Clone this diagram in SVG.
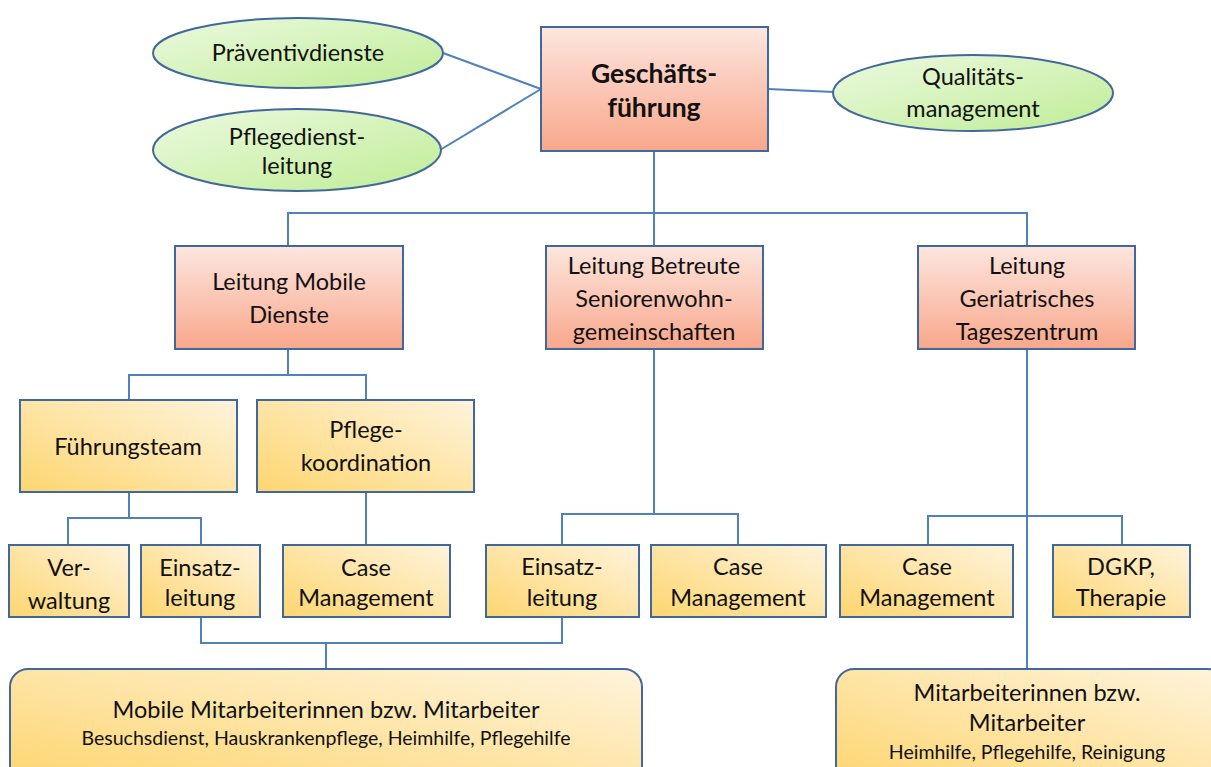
<svg xmlns="http://www.w3.org/2000/svg" width="1211" height="767" viewBox="0 0 1211 767">
<style>
text{font-family:Lato,"Open Sans","Liberation Sans",sans-serif;fill:#111;text-anchor:middle}
.t{font-size:23.5px}
.s{font-size:19.5px}
.b{font-size:26.5px;font-weight:bold}
.pink{fill:url(#gp);stroke:#41689c;stroke-width:2}
.org{fill:url(#go);stroke:#41689c;stroke-width:2}
.grn{fill:url(#gg);stroke:#41689c;stroke-width:2}
#conn path,#conn line{stroke:#4f81bd;stroke-width:2;fill:none}
</style>
<defs>
<linearGradient id="gp" x1="0" y1="0" x2="0" y2="1"><stop offset="0" stop-color="#fde6df"/><stop offset="1" stop-color="#f8a78b"/></linearGradient>
<linearGradient id="go" x1="0" y1="1" x2="1" y2="0"><stop offset="0" stop-color="#fdd670"/><stop offset="1" stop-color="#fff3dc"/></linearGradient>
<linearGradient id="gg" x1="0" y1="0" x2="1" y2="1"><stop offset="0" stop-color="#ecf9e0"/><stop offset="1" stop-color="#bfed96"/></linearGradient>
</defs>
<g id="conn">
<line x1="443" y1="53" x2="541" y2="89"/>
<line x1="440" y1="150" x2="541" y2="89"/>
<line x1="768" y1="89" x2="834" y2="92"/>
<path d="M654 151V213M288 246V213H1027V246M654 213V246"/>
<path d="M288 349V375M129 400V375H366V400"/>
<path d="M129 492V518M68 545V518H201V545"/>
<path d="M366 492V545"/>
<path d="M201 617V643H562V617M326 643V669"/>
<path d="M654 349V514M562 545V514H738V545"/>
<path d="M1027 349V669M928 545V516H1122V545"/>
</g>
<g id="praev"><ellipse class="grn" cx="298" cy="53" rx="145" ry="35"/><text class="t" x="298" y="61">Präventivdienste</text></g>
<g id="pdl"><ellipse class="grn" cx="297" cy="150" rx="144" ry="41"/><text class="t" x="297" y="145">Pflegedienst-</text><text class="t" x="297" y="174">leitung</text></g>
<g id="gf"><rect class="pink" x="541" y="27" width="227" height="124"/><text class="b" x="654" y="83">Geschäfts-</text><text class="b" x="654" y="117">führung</text></g>
<g id="qm"><ellipse class="grn" cx="973" cy="93" rx="140" ry="38"/><text class="t" x="973" y="85">Qualitäts-</text><text class="t" x="973" y="117">management</text></g>
<g id="lmd"><rect class="pink" x="175" y="246" width="228" height="103"/><text class="t" x="289" y="290">Leitung Mobile</text><text class="t" x="289" y="323">Dienste</text></g>
<g id="lbs"><rect class="pink" x="546" y="246" width="217" height="103"/><text class="t" x="654" y="274">Leitung Betreute</text><text class="t" x="654" y="307">Seniorenwohn-</text><text class="t" x="654" y="340">gemeinschaften</text></g>
<g id="lgt"><rect class="pink" x="918" y="246" width="217" height="103"/><text class="t" x="1027" y="274">Leitung</text><text class="t" x="1027" y="307">Geriatrisches</text><text class="t" x="1027" y="340">Tageszentrum</text></g>
<g id="ft"><rect class="org" x="20" y="400" width="217" height="92"/><text class="t" x="128" y="455">Führungsteam</text></g>
<g id="pk"><rect class="org" x="257" y="400" width="217" height="92"/><text class="t" x="366" y="438">Pflege-</text><text class="t" x="366" y="471">koordination</text></g>
<g id="vw"><rect class="org" x="9" y="545" width="120" height="72"/><text class="t" x="69" y="576">Ver-</text><text class="t" x="69" y="609">waltung</text></g>
<g id="el1"><rect class="org" x="141" y="545" width="119" height="72"/><text class="t" x="200" y="576">Einsatz-</text><text class="t" x="200" y="606">leitung</text></g>
<g id="cm1"><rect class="org" x="283" y="545" width="167" height="72"/><text class="t" x="366" y="576">Case</text><text class="t" x="366" y="606">Management</text></g>
<g id="el2"><rect class="org" x="486" y="545" width="153" height="72"/><text class="t" x="562" y="575">Einsatz-</text><text class="t" x="562" y="606">leitung</text></g>
<g id="cm2"><rect class="org" x="651" y="545" width="175" height="72"/><text class="t" x="738" y="575">Case</text><text class="t" x="738" y="606">Management</text></g>
<g id="cm3"><rect class="org" x="840" y="545" width="173" height="72"/><text class="t" x="927" y="575">Case</text><text class="t" x="927" y="606">Management</text></g>
<g id="dgkp"><rect class="org" x="1053" y="545" width="137" height="72"/><text class="t" x="1121" y="575">DGKP,</text><text class="t" x="1121" y="606">Therapie</text></g>
<g id="mma"><rect class="org" x="10" y="669" width="632" height="115" rx="18"/><text class="t" x="326" y="718">Mobile Mitarbeiterinnen bzw. Mitarbeiter</text><text class="s" x="326" y="745">Besuchsdienst, Hauskrankenpflege, Heimhilfe, Pflegehilfe</text></g>
<g id="ma"><rect class="org" x="836" y="669" width="390" height="115" rx="18"/><text class="t" x="1027" y="701">Mitarbeiterinnen bzw.</text><text class="t" x="1027" y="731">Mitarbeiter</text><text class="s" x="1027" y="759">Heimhilfe, Pflegehilfe, Reinigung</text></g>
</svg>
